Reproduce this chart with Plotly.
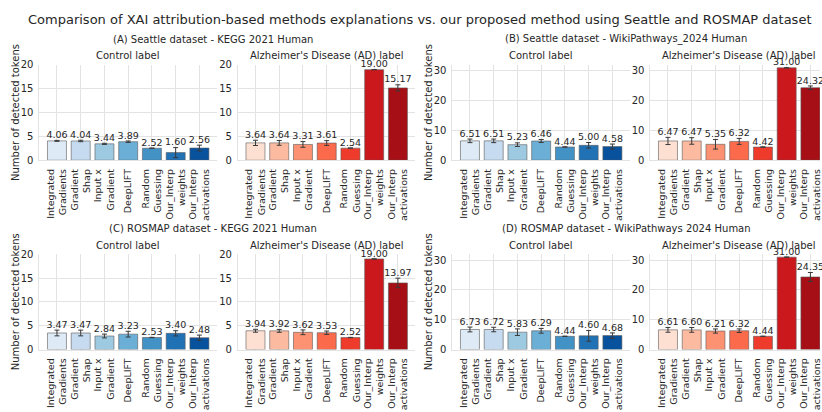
import plotly.graph_objects as go

W, H = 822, 412

methods = ["Integrated<br>Gradients", "Gradient<br>Shap", "Input x<br>Gradient", "DeepLIFT",
           "Random<br>Guessing", "Our_Interp<br>weights", "Our_Interp<br>activations"]

blues = ['#deebf7', '#c6dbef', '#9ecae1', '#6baed6', '#4292c6', '#2171b5', '#08519c']
reds = ['#fee0d2', '#fcbba1', '#fc9272', '#fb6a4a', '#ef3b2c', '#cb181d', '#a50f15']

# (A) Seattle - KEGG 2021
A_ctrl = [4.06, 4.04, 3.44, 3.89, 2.52, 1.60, 2.56]
A_ctrl_err = [0.10, 0.15, 0.12, 0.15, 0.03, 1.05, 0.60]
A_ad = [3.64, 3.64, 3.31, 3.61, 2.54, 19.00, 15.17]
A_ad_err = [0.55, 0.50, 0.60, 0.50, 0.03, 0.0, 0.65]
# (B) Seattle - WikiPathways 2024
B_ctrl = [6.51, 6.51, 5.23, 6.46, 4.44, 5.00, 4.58]
B_ctrl_err = [0.60, 0.60, 0.60, 0.50, 0.03, 0.95, 0.85]
B_ad = [6.47, 6.47, 5.35, 6.32, 4.42, 31.00, 24.32]
B_ad_err = [1.20, 1.10, 1.60, 1.00, 0.03, 0.0, 0.60]
# (C) ROSMAP - KEGG 2021
C_ctrl = [3.47, 3.47, 2.84, 3.23, 2.53, 3.40, 2.48]
C_ctrl_err = [0.60, 0.60, 0.40, 0.60, 0.03, 0.55, 0.55]
C_ad = [3.94, 3.92, 3.62, 3.53, 2.52, 19.00, 13.97]
C_ad_err = [0.30, 0.30, 0.50, 0.35, 0.03, 0.0, 1.00]
# (D) ROSMAP - WikiPathways 2024
D_ctrl = [6.73, 6.72, 5.83, 6.29, 4.44, 4.60, 4.68]
D_ctrl_err = [0.80, 0.75, 1.10, 0.80, 0.03, 1.80, 0.90]
D_ad = [6.61, 6.60, 6.21, 6.32, 4.44, 31.00, 24.35]
D_ad_err = [0.80, 0.80, 0.70, 0.60, 0.03, 0.0, 1.50]

main_title = "Comparison of XAI attribution-based methods explanations vs. our proposed method using Seattle and ROSMAP dataset"
subtitles = ["(A) Seattle dataset - KEGG 2021 Human", "(B) Seattle dataset - WikiPathways_2024 Human",
             "(C) ROSMAP dataset - KEGG 2021 Human", "(D) ROSMAP dataset - WikiPathways 2024 Human"]
panel_titles = ["Control label", "Alzheimer's Disease (AD) label"]
y_title = "Number of detected tokens"

FONT = "DejaVu Sans"
TXT = "#262626"
GRID = "#e3e3e3"

# layout geometry (pixels)
col_px = [(39.5, 217.5), (238.5, 416.5), (453.5, 631.5), (652.0, 830.0)]
row_px = [(61.5, 159.5), (256.0, 354.0)]
title_row_px = [35, 230]
label_row_px = [52, 247]

datasets = [
    (A_ctrl, A_ctrl_err, A_ad, A_ad_err, 0, 0),
    (B_ctrl, B_ctrl_err, B_ad, B_ad_err, 0, 2),
    (C_ctrl, C_ctrl_err, C_ad, C_ad_err, 1, 0),
    (D_ctrl, D_ctrl_err, D_ad, D_ad_err, 1, 2),
]
panels = []
for cv, ce, av, ae, r, c in datasets:
    top = max(cv + av) + 1
    panels.append((cv, ce, blues, r, c, top))
    panels.append((av, ae, reds, r, c + 1, top))

fig = go.Figure()
layout = {}
annotations = []

for i, (vals, errs, cols, r, c, ymax) in enumerate(panels):
    k = i + 1
    xa = "x" if k == 1 else f"x{k}"
    ya = "y" if k == 1 else f"y{k}"
    fig.add_trace(go.Bar(
        x=methods, y=vals, xaxis=xa, yaxis=ya, width=0.8,
        marker=dict(color=cols, line=dict(color="rgba(90,90,90,0.75)", width=0.8)),
        error_y=dict(type="data", array=errs, color="#3a3a3a", thickness=1, width=2.5),
        showlegend=False, hoverinfo="skip",
    ))
    fig.add_trace(go.Scatter(
        x=methods, y=[v + e for v, e in zip(vals, errs)], xaxis=xa, yaxis=ya,
        mode="text", text=[f"{v:.2f}" for v in vals], textposition="top center",
        textfont=dict(family=FONT, size=9.5, color=TXT), cliponaxis=False,
        showlegend=False, hoverinfo="skip",
    ))
    x0, x1 = col_px[c]
    xr = [-0.74, 6.74]
    x1v = x1
    if x1 > W:
        xr = [-0.74, -0.74 + (W - x0) / (x1 - x0) * 7.48]
        x1v = W
    y0, y1 = row_px[r]
    dt = 5 if ymax <= 25 else 10
    layout["xaxis" if k == 1 else f"xaxis{k}"] = dict(
        domain=[x0 / W, x1v / W], anchor=ya, range=xr, type="category",
        showgrid=True, gridcolor=GRID, gridwidth=1, showline=True, linecolor=GRID,
        tickangle=-90, ticks="outside", ticklen=4, tickcolor="rgba(0,0,0,0)",
        tickfont=dict(family=FONT, size=9.5, color=TXT), fixedrange=True,
    )
    layout["yaxis" if k == 1 else f"yaxis{k}"] = dict(
        domain=[1 - y1 / H, 1 - y0 / H], anchor=xa, range=[0, ymax], dtick=dt,
        showgrid=True, gridcolor=GRID, gridwidth=1, zeroline=False,
        showline=True, linecolor=GRID, ticks="outside", ticklen=3,
        tickcolor="rgba(0,0,0,0)",
        tickfont=dict(family=FONT, size=10, color=TXT), fixedrange=True,
    )
    annotations.append(dict(text=panel_titles[c % 2], x=(x0 + x1) / 2 / W, y=1 - label_row_px[r] / H,
                            xref="paper", yref="paper", showarrow=False, xanchor="center", yanchor="middle",
                            font=dict(family=FONT, size=10, color=TXT)))
    if c % 2 == 0:
        annotations.append(dict(text=y_title, x=(x0 - 24) / W, y=1 - (y0 + y1) / 2 / H, textangle=-90,
                                xref="paper", yref="paper", showarrow=False, xanchor="center", yanchor="middle",
                                font=dict(family=FONT, size=10, color=TXT)))

sub_x = [214, 628]
for j, s in enumerate(subtitles):
    r, cc = divmod(j, 2)
    annotations.append(dict(text=s, x=sub_x[cc] / W, y=1 - title_row_px[r] / H, xref="paper", yref="paper",
                            showarrow=False, xanchor="center", yanchor="middle",
                            font=dict(family=FONT, size=10, color=TXT)))

annotations.append(dict(text=main_title, x=421 / W, y=1 - 15 / H, xref="paper", yref="paper",
                        showarrow=False, xanchor="center", yanchor="middle",
                        font=dict(family=FONT, size=13, color=TXT)))

fig.update_layout(
    width=W, height=H, margin=dict(l=0, r=0, t=0, b=0),
    paper_bgcolor="white", plot_bgcolor="white",
    annotations=annotations, bargap=0.2, **layout,
)

fig.write_html("out.html", config={"displayModeBar": False},
               post_script="document.body.style.margin='0';document.body.style.padding='0';document.body.style.overflow='hidden';")
